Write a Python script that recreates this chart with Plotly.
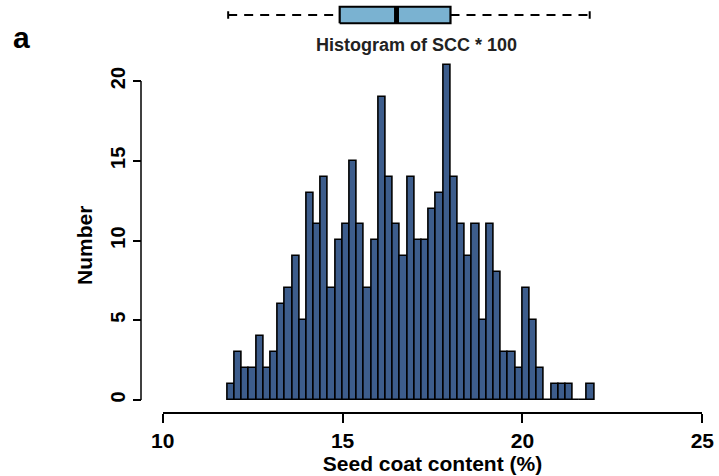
import plotly.graph_objects as go

# ---- data ----
bin_start = 11.8
bin_width = 0.2
counts = [1, 3, 2, 2, 4, 2, 3, 6, 7, 9,
          5, 13, 11, 14, 7, 10, 11, 15, 11, 7,
          10, 19, 14, 11, 9, 14, 10, 10, 12, 13,
          21, 14, 11, 9, 11, 5, 11, 8, 3, 3,
          2, 7, 5, 2, 0, 1, 1, 1, 0, 0, 1]
box_stats = {"min": 11.82, "q1": 14.92, "median": 16.5, "q3": 18.0, "max": 21.87}
x_ticks = [10, 15, 20, 25]
y_ticks = [0, 5, 10, 15, 20]

W, H = 719, 476
FONT = "Liberation Sans, Arial, sans-serif"
BAR_COLOR = "#3d5d8c"
BOX_COLOR = "#7ab2d1"

def px(xp):
    return xp / W

def py(yp):
    return 1 - yp / H

centers = [bin_start + bin_width * (i + 0.5) for i in range(len(counts))]

fig = go.Figure()
fig.add_trace(go.Bar(
    x=centers, y=counts, width=[bin_width] * len(counts),
    marker=dict(color=BAR_COLOR, line=dict(color="black", width=1.6)),
    xaxis="x", yaxis="y", showlegend=False, hoverinfo="x+y"))

# ---- boxplot on top ----
bh = 0.55
q1, med, q3 = box_stats["q1"], box_stats["median"], box_stats["q3"]
lo, hi = box_stats["min"], box_stats["max"]
fig.add_trace(go.Scatter(
    x=[lo, q1, None, q3, hi], y=[0, 0, None, 0, 0], mode="lines",
    line=dict(color="black", width=2, dash="9px,7px"),
    xaxis="x", yaxis="y2", showlegend=False))
fig.add_trace(go.Scatter(
    x=[lo, lo, None, hi, hi], y=[-0.25, 0.25, None, -0.25, 0.25], mode="lines",
    line=dict(color="black", width=2), xaxis="x", yaxis="y2", showlegend=False))
fig.add_trace(go.Scatter(
    x=[q1, q3, q3, q1, q1], y=[-bh, -bh, bh, bh, -bh],
    mode="lines", fill="toself", fillcolor=BOX_COLOR,
    line=dict(color="black", width=2.2), xaxis="x", yaxis="y2", showlegend=False))
fig.add_trace(go.Scatter(
    x=[med, med], y=[-bh, bh], mode="lines",
    line=dict(color="black", width=5), xaxis="x", yaxis="y2", showlegend=False))

x_dom = [px(162.7), px(702.3)]
y0_px, y20_px = 400.0, 81.0
unit = (y0_px - y20_px) / 20
ytop = 22
y_dom = [py(y0_px), py(y0_px - ytop * unit)]
yaxis_x = px(141)

fig.update_layout(
    template="none",
    width=W, height=H, autosize=False,
    margin=dict(l=0, r=0, t=0, b=0, pad=0),
    paper_bgcolor="white", plot_bgcolor="white",
    font=dict(family=FONT, color="black"),
    bargap=0,
    xaxis=dict(
        domain=x_dom, range=[10, 25], anchor="free", position=py(413),
        automargin=False,
        showline=True, linecolor="black", linewidth=1.5,
        ticks="outside", ticklen=9, tickwidth=1.5, tickcolor="black",
        tickvals=x_ticks, showgrid=False, zeroline=False,
        tickfont=dict(size=21, weight="bold"),
        title=dict(text="Seed coat content (%)", font=dict(size=21, weight="bold"), standoff=2)),
    yaxis=dict(
        domain=y_dom, range=[0, ytop], anchor="free", position=yaxis_x,
        automargin=False,
        showline=False, ticks="outside", ticklen=8, tickwidth=1.5, tickcolor="black",
        tickvals=y_ticks, tickangle=-90, showgrid=False, zeroline=False,
        tickfont=dict(size=20, weight="bold")),
    yaxis2=dict(domain=[py(30), 1], range=[-1, 1], anchor="x", visible=False,
                automargin=False),
    shapes=[dict(type="line", xref="paper", yref="y", x0=yaxis_x, x1=yaxis_x,
                 y0=y_ticks[0], y1=y_ticks[-1], line=dict(color="black", width=1.5))],
    annotations=[
        dict(text="Number", xref="paper", yref="paper", x=px(84), y=py(246),
             xanchor="center", yanchor="middle", textangle=-90, showarrow=False,
             font=dict(size=21, weight="bold")),
        dict(text="Histogram of SCC * 100", xref="paper", yref="paper",
             x=px(416), y=py(45), xanchor="center", yanchor="middle", showarrow=False,
             font=dict(size=18, weight="bold", color="#222")),
        dict(text="a", xref="paper", yref="paper", x=px(21), y=py(38),
             xanchor="center", yanchor="middle",
             showarrow=False, font=dict(size=30, weight="bold")),
    ],
)

fig.write_html("out.html")
